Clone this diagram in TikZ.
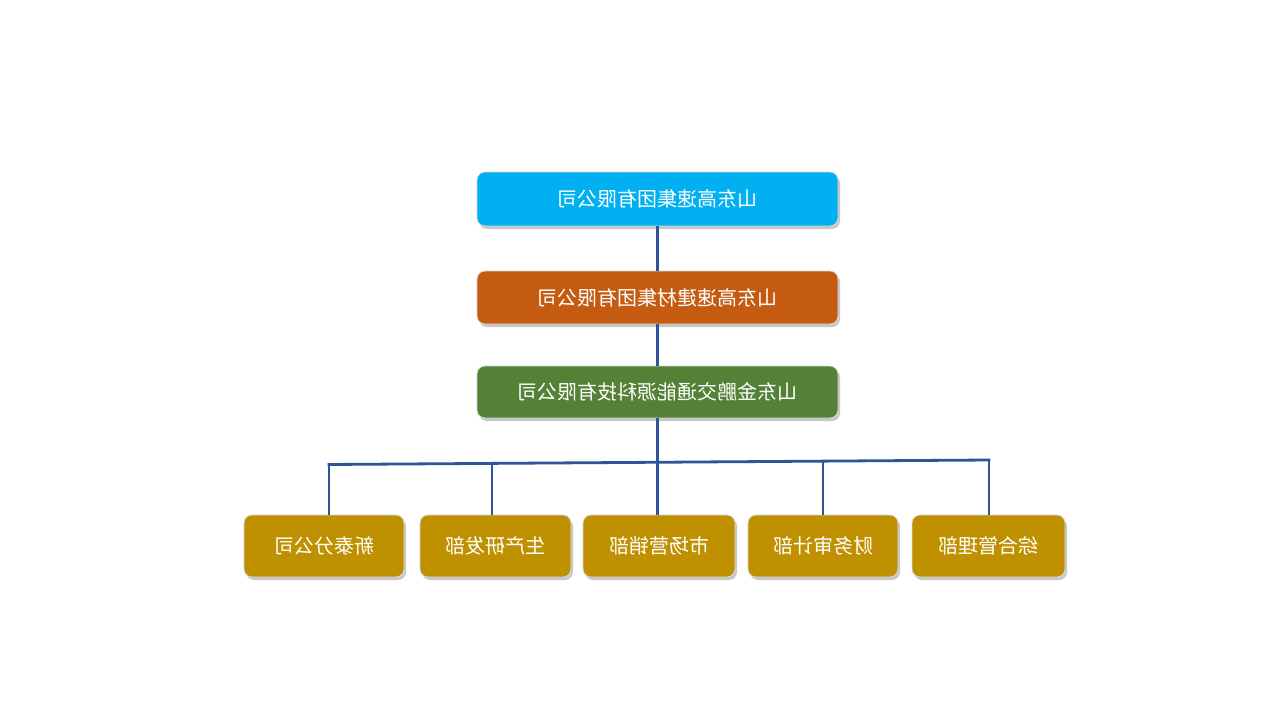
\documentclass[tikz,border=0pt]{standalone}
\usepackage{fontspec}
\newfontfamily\cjk{Noto Sans CJK SC}
\usetikzlibrary{shadows}
\definecolor{cblue}{HTML}{00B0F0}
\definecolor{corange}{HTML}{C55A11}
\definecolor{cgreen}{HTML}{538135}
\definecolor{cgold}{HTML}{BF9000}
\definecolor{cline}{HTML}{2F5597}
\tikzset{
  box/.style={draw=white!85!black, line width=0.8pt, rounded corners=8pt, text=white,
    font=\cjk\fontsize{20}{23}\selectfont, inner sep=0pt,
    drop shadow={shadow xshift=2pt, shadow yshift=-3pt, opacity=0.3, fill=black!70}},
  topbox/.style={box, minimum width=361pt, minimum height=54pt},
  lowbox/.style={box, fill=cgold, minimum height=62pt},
  link/.style={draw=cline, line width=2.8pt}
}
\newcommand{\mtxt}[1]{\reflectbox{#1}}
\begin{document}
\begin{tikzpicture}[x=1pt,y=-1pt]
\useasboundingbox[fill=white] (0,0) rectangle (1280,720);
\node[topbox, fill=cblue] (a) at (657.5,199) {\mtxt{山东高速集团有限公司}};
\node[topbox, fill=corange, minimum height=53pt] (b) at (657.5,297.5) {\mtxt{山东高速建材集团有限公司}};
\node[topbox, fill=cgreen, minimum height=52pt] (c) at (657.5,392) {\mtxt{山东金鹏交通能源科技有限公司}};
\node[lowbox, minimum width=160pt] (d1) at (324,546) {\mtxt{新泰分公司}};
\node[lowbox, minimum width=151pt] (d2) at (495.5,546) {\mtxt{生产研发部}};
\node[lowbox, minimum width=152pt] (d3) at (659,546) {\mtxt{市场营销部}};
\node[lowbox, minimum width=150pt] (d4) at (823,546) {\mtxt{财务审计部}};
\node[lowbox, minimum width=153pt] (d5) at (988.5,546) {\mtxt{综合管理部}};
\coordinate (bl) at (329,464.5);
\coordinate (br) at (989,460);
\coordinate (bm) at (657.5,462.2);
\coordinate (j2) at (492,463.4);
\coordinate (j4) at (823,461.1);
\draw[link] (a.south) -- (b.north);
\draw[link] (b.south) -- (c.north);
\draw[link] (c.south) -- (bm);
\draw[link, line cap=rect] (bl) -- (br);
\draw[link] (bl) -- (bl |- d1.north);
\draw[link] (j2) -- (j2 |- d2.north);
\draw[link] (bm) -- (bm |- d3.north);
\draw[link] (j4) -- (j4 |- d4.north);
\draw[link] (br) -- (br |- d5.north);
\end{tikzpicture}
\end{document}
